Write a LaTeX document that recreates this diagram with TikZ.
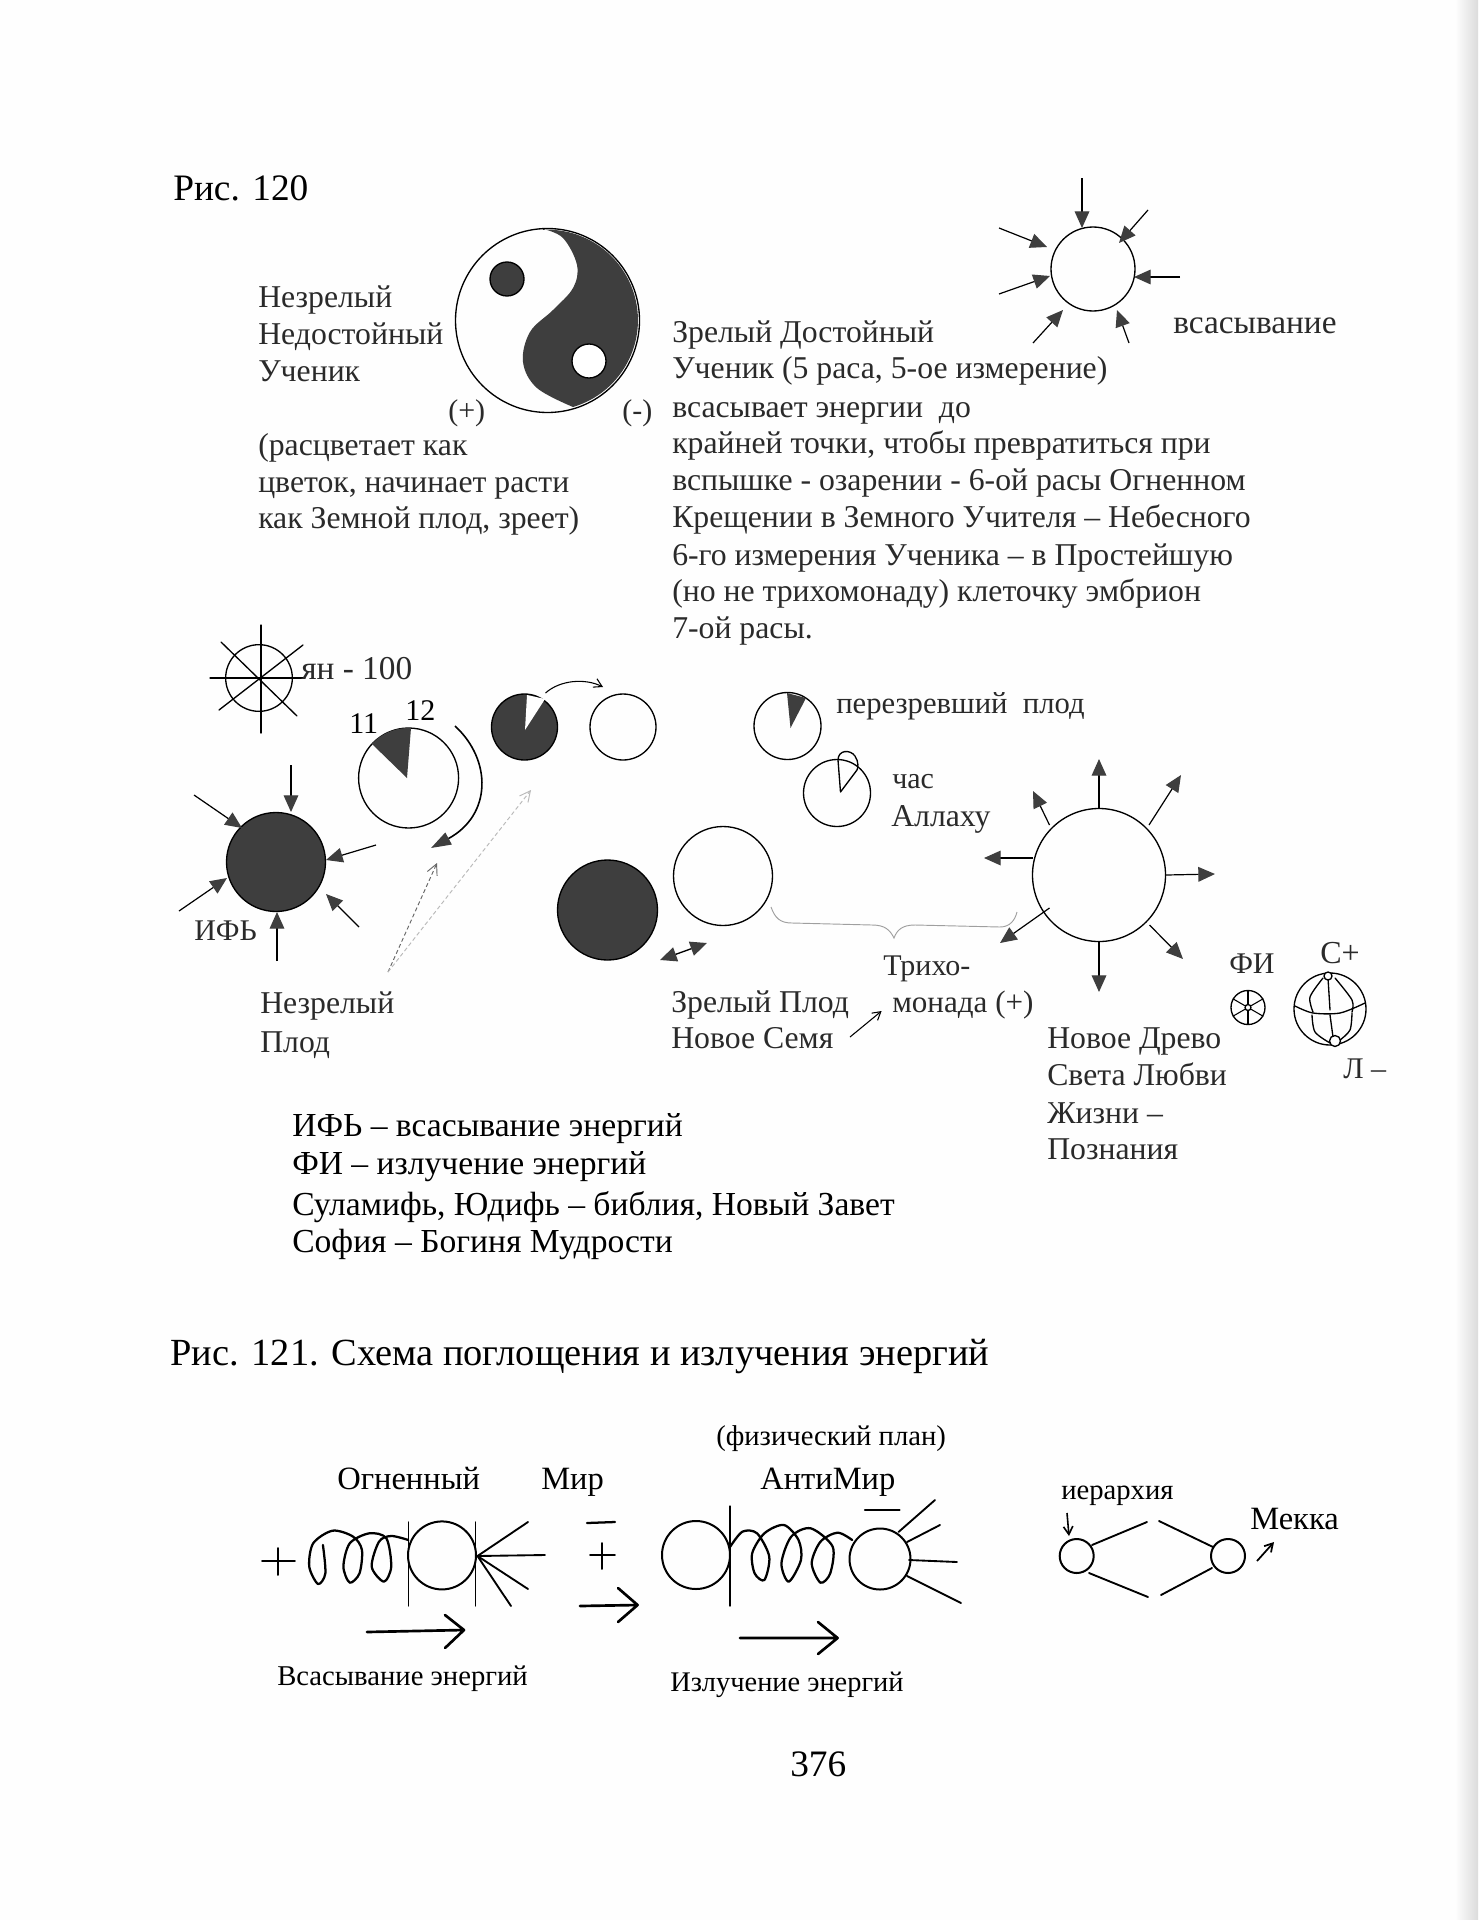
\documentclass[tikz,border=0pt]{standalone}
\usepackage{fontspec}
\usepackage{graphicx}
\setmainfont{Liberation Serif}
\usetikzlibrary{arrows.meta,shapes.geometric}
\definecolor{ink}{HTML}{3E3E3E}
\definecolor{txt}{HTML}{2A2A2A}
\definecolor{page}{HTML}{FEFEFE}
\tikzset{
  txtn/.style={anchor=base west,inner sep=0pt,text=txt},
  bodyf/.style={txtn,font=\fontsize{23.8}{26}\selectfont},
  shortf/.style={txtn,font=\fontsize{22.5}{26}\selectfont},
  headf/.style={txtn,text=black,font=\fontsize{28}{30}\selectfont},
  headg/.style={txtn,text=black,font=\fontsize{28.8}{30}\selectfont},
  legf/.style={txtn,text=black,font=\fontsize{25.2}{28}\selectfont},
  blackf/.style={txtn,text=black,font=\fontsize{24.4}{28}\selectfont},
  smallf/.style={txtn,text=black,font=\fontsize{21.5}{24}\selectfont},
  numf/.style={txtn,text=black,font=\fontsize{22.5}{24}\selectfont},
  ring/.style={circle,draw=black,line width=1pt,inner sep=0pt},
  ringb/.style={ring,line width=1.5pt},
  arr/.style={line width=.9pt,-{Triangle[length=12.5pt,width=11pt,color=ink]}},
  opn/.style={line width=.8pt,-{Straight Barb[length=6pt,width=7pt]}},
  faint/.style={line width=.7pt,draw=gray!70,densely dashed,-{Straight Barb[length=8pt,width=8pt]}},
  stroke/.style={line width=1pt,line cap=round},
  strokeb/.style={line width=1.4pt,line cap=round},
  thick2/.style={line width=2pt,line cap=round,line join=round},
  spring/.style={line width=1.7pt,line cap=round,line join=round}
}
\newcommand{\tx}[5][bodyf]{\node[#1] (#2) at (#3,#4) {#5};}
\newcommand{\rn}[5][none]{\node[ring,fill=#1,minimum size=#5*1.5pt] (#2) at (#3,#4) {};}
\newcommand{\rb}[4]{\node[ringb,minimum size=#4*1.5pt] (#1) at (#2,#3) {};}
\begin{document}
\begin{tikzpicture}[x=.75pt,y=-.75pt]
\useasboundingbox (0,0) rectangle (1478,1920);
\fill[page] (0,0) rectangle (1478,1920);
\shade[left color=page,right color=gray!28] (1455,0) rectangle (1478,1920);

% ---------- Fig 120 heading
\tx[headf]{h120}{173}{200}{Рис. 120}

% ---------- yin-yang
\fill[ink] plot[smooth,tension=.6] coordinates {(543,229)(563,238)(577,265)(573,288)(553,310)(530,332)(523,362)(537,388)(573,407)}
  arc[start angle=73.6,end angle=-92.8,radius=90.5] -- cycle;
\rn{yy}{547.5}{320.5}{92}
\rn[ink]{yydark}{507}{279}{17}
\rn[white]{yywhite}{589}{361}{17}
\tx{a1}{258}{307}{Незрелый}
\tx{a2}{258}{344}{Недостойный}
\tx{a3}{258}{381}{Ученик}
\tx[shortf]{plus}{448}{420}{(+)}
\tx[shortf]{minus}{622}{420}{(-)}
\tx{b1}{258}{455}{(расцветает как}
\tx{b2}{258}{492}{цветок, начинает расти}
\tx{b3}{258}{528}{как Земной плод, зреет)}
\tx{c1}{672}{342}{Зрелый Достойный}
\tx{c2}{672}{378}{Ученик (5 раса, 5-ое измерение)}
\tx{c3}{672}{417}{всасывает энергии\ \ до}
\tx{c4}{672}{453}{крайней точки, чтобы превратиться при}
\tx{c5}{672}{490}{вспышке - озарении - 6-ой расы Огненном}
\tx{c6}{672}{527}{Крещении в Земного Учителя – Небесного}
\tx{c7}{672}{565}{6-го измерения Ученика – в Простейшую}
\tx{c8}{672}{601}{(но не трихомонаду) клеточку эмбрион}
\tx{c9}{672}{638}{7-ой расы.}

% ---------- small sun, suction
\rn{sun}{1093}{269}{42}
\draw[arr] (1082,178) -- (1082,228);
\draw[arr] (1148,210) -- (1119,243);
\draw[arr] (1180,277) -- (1134,277);
\draw[arr] (1129,343) -- (1117,310);
\draw[arr] (1033,343) -- (1063,310);
\draw[arr] (999,294) -- (1050,276);
\draw[arr] (999,228) -- (1047,247);
\tx[txtn,font=\fontsize{25}{28}\selectfont]{suck}{1173}{333}{всасывание}

% ---------- wheel yan
\node[ring,minimum size=50pt] (wheel) at (259,678) {};
\draw[stroke] (210,678) -- (305,678);
\draw[stroke] (261,625) -- (261,733);
\draw[stroke] (221,642) -- (297,716);
\draw[stroke] (303,645) -- (219,710);
\tx[txtn,font=\fontsize{25}{28}\selectfont]{yan}{301}{679}{ян - 100}

% ---------- dark sun (ИФЬ)
\rn[ink]{ifb}{276}{862}{49.5}
\draw[arr] (291,765) -- (291,812);
\draw[arr] (194,795) -- (242,828);
\draw[arr] (376,845) -- (326,860);
\draw[arr] (359,927) -- (326,894);
\draw[arr] (277,961) -- (277,912);
\draw[arr] (179,911) -- (227,878);
\tx[shortf]{ifbt}{194}{940}{ИФЬ}
\tx{nz1}{260}{1013}{Незрелый}
\tx{nz2}{260}{1052}{Плод}

% ---------- clock 11-12
\rn{clock}{408.6}{778}{50}
\fill[ink] (407,778) -- (411,728) arc[start angle=-87,end angle=-137,radius=50] -- cycle;
\tx[numf]{n11}{349}{733}{11}
\tx[numf]{n12}{405}{720}{12}
\draw[line width=1.2pt,-{Triangle[length=15pt,width=10pt,color=ink]}] (455,726) .. controls (492,760) and (492,815) .. (431,848);
\coordinate (src) at (388,972);
\draw[faint,draw=gray!80!black] (src) -- (437,863);
\draw[faint,draw=gray!55] (src) -- (531,790);

% ---------- dark + white pair
\rn[ink]{dk}{524.5}{727}{33}
\fill[white] (525,730) -- (527,695) -- (545,699) -- cycle;
\rn{wh}{623}{727}{33}
\draw[opn] (545.5,693) .. controls (560,680) and (585,678) .. (603,687);

% ---------- overripe fruit
\rn{over}{787.5}{726}{33.5}
\fill[ink] (790.5,728) -- (787,693) -- (806,698) -- cycle;
\tx[txtn,font=\fontsize{23}{26}\selectfont]{ov}{836}{713}{перезревший\ \ плод}
\rn{hour}{837}{793}{33.5}
\draw[stroke] (840.5,792) -- (838,760) .. controls (838,750) and (850,749) .. (855,756)
  .. controls (859,762) and (858,768) .. (857,770) -- (840.5,792);
\tx[shortf]{ch1}{892}{788}{час}
\tx{ch2}{891}{826}{Аллаху}

% ---------- mature fruit
\rn[ink]{dk2}{607.5}{910}{50}
\rn{wh2}{723}{876}{49.5}
\draw[line width=1pt,{Triangle[length=12.5pt,width=11pt,color=ink]}-{Triangle[length=12.5pt,width=11pt,color=ink]}] (660,960) -- (707,943);
\draw[line width=.7pt,draw=gray!75] (771,907) .. controls (775,918) and (780,923) .. (792,923)
  -- (872,925) .. controls (885,925) and (890,930) .. (894,938)
  .. controls (897,930) and (902,925) .. (915,925) -- (1000,927)
  .. controls (1010,927) and (1015,920) .. (1017,912);

% ---------- big sun
\rn{big}{1099}{875}{66.5}
\draw[arr] (big.north) -- (1099,759);
\draw[arr] (1149,825) -- (1181,775);
\draw[arr] (big.east) -- (1215,874);
\draw[arr] (1149.5,925) -- (1183,959);
\draw[arr] (big.south) -- (1099,992);
\draw[arr] (1049.5,908) -- (1000,943);
\draw[arr] (1033,858) -- (984,858);
\draw[arr] (1049.5,825) -- (1033,791);
\tx[shortf]{tr1}{883}{975}{Трихо-}
\tx[txtn,font=\fontsize{23.3}{26}\selectfont]{tr2}{892}{1012}{монада (+)}
\draw[opn] (850,1037) -- (881.6,1011);
\tx{zp1}{671}{1012}{Зрелый Плод}
\tx{zp2}{671}{1048}{Новое Семя}
\tx{nd1}{1047}{1048}{Новое Древо}
\tx{nd2}{1047}{1085}{Света Любви}
\tx{nd3}{1047}{1123}{Жизни –}
\tx{nd4}{1047}{1159}{Познания}
\tx[shortf]{fi}{1229}{973}{ФИ}
\tx[txtn,font=\fontsize{24}{26}\selectfont]{cp}{1320}{963}{С+}
\tx[shortf]{lm}{1343}{1078}{Л –}

% ---------- small wheel
\node[ring,minimum size=25.5pt] (fw) at (1248,1007.5) {};
\node[ring,minimum size=4.5pt] (fwc) at (1248,1007.5) {};
\foreach \a in {-90,-30,30,90,150,210}{
  \draw[line width=.8pt] (fwc.\a) -- (fw.\a);
}

% ---------- globe
\rn{globe}{1330}{1009}{36}
\draw[stroke] plot[smooth] coordinates {(1295,1006)(1313,1013)(1340,1013)(1365,1003)};
\draw[stroke] (1328,978) -- (1330,1010);
\draw[stroke] (1330,1015) -- (1333,1037);
\draw[stroke] plot[smooth] coordinates {(1323,978)(1310,997)(1313,1012)};
\draw[stroke] plot[smooth] coordinates {(1335,978)(1352,1000)(1352,1012)};
\draw[stroke] plot[smooth] coordinates {(1312,1015)(1315,1032)(1330,1043)};
\draw[stroke] plot[smooth] coordinates {(1352,1013)(1350,1030)(1340,1040)};
\rn[white]{gt}{1328}{976}{4}
\rn[white]{gb}{1335}{1041}{5.5}

% ---------- legend
\tx[legf]{l1}{292}{1136}{ИФЬ – всасывание энергий}
\tx[legf]{l2}{292}{1174}{ФИ – излучение энергий}
\tx[legf]{l3}{292}{1215}{Суламифь, Юдифь – библия, Новый Завет}
\tx[legf]{l4}{292}{1252}{София – Богиня Мудрости}

% ---------- Fig 121
\tx[headg]{h121}{170}{1365}{Рис. 121. Схема поглощения и излучения энергий}
\tx[smallf]{fp}{716}{1445}{(физический план)}
\tx[blackf]{og}{337}{1489}{Огненный}
\tx[blackf]{mir}{541}{1489}{Мир}
\tx[blackf]{am}{760}{1489}{АнтиМир}
\draw[strokeb] (262,1561) -- (295,1561) (278,1548) -- (278,1575);

\begin{scope}[shift={(240,1400)},xscale=.4878,yscale=.3333]
\draw[spring] plot[smooth] coordinates {(170,435)(175,520)(160,552)(142,500)(150,430)(190,392)(232,410)(250,450)(245,520)(225,548)(212,500)(225,430)(265,400)(300,415)(310,500)(295,545)(270,500)(285,425)(310,408)(345,420)};
\draw[spring] plot[smooth] coordinates {(1005,440)(1030,395)(1060,400)(1085,470)(1075,540)(1055,520)(1050,460)(1075,400)(1115,375)(1145,420)(1150,480)(1125,545)(1110,490)(1130,410)(1170,385)(1215,440)(1210,520)(1190,548)(1172,490)(1190,425)(1225,398)(1255,420)};
\end{scope}

\rb{lc}{442}{1555.4}{34}
\draw[stroke] (408.3,1522) -- (408.3,1606);
\draw[stroke] (475.6,1522) -- (475.6,1606);
\coordinate (rayo) at (477.5,1556);
\draw[strokeb] (rayo) -- (528,1522);
\draw[strokeb] (rayo) -- (545,1555);
\draw[strokeb] (rayo) -- (528,1589);
\draw[strokeb] (rayo) -- (511,1606);
\draw[strokeb,line width=1.7pt] (587,1523) -- (615,1522);
\draw[strokeb] (590,1555) -- (615,1555) (602,1543) -- (602,1569);
\draw[thick2] (580,1606) -- (637.6,1605) (618,1588) -- (637.6,1605) -- (618,1622);
\draw[thick2] (367,1632) -- (464,1630) (445,1615) -- (464,1630) -- (445,1648);
\draw[thick2] (740,1638) -- (837.6,1638) (818,1622) -- (837.6,1638) -- (818,1654);
\tx[smallf]{ve}{277}{1685}{Всасывание энергий}
\tx[txtn,text=black,font=\fontsize{21.3}{24}\selectfont]{ie}{670}{1691}{Излучение энергий}

\rb{rc1}{696}{1555}{34}
\draw[stroke] (730,1506) -- (730,1606);
\rb{rc2}{880}{1559}{30.5}
\draw[strokeb] (898.5,1532) -- (935,1500);
\draw[strokeb] (907,1542) -- (940,1525);
\draw[strokeb] (909,1560) -- (957,1562);
\draw[strokeb] (907,1576) -- (961,1603);
\draw[strokeb,line width=1.7pt] (865,1510) -- (899.5,1510);

% ---------- hierarchy
\tx[txtn,text=black,font=\fontsize{21.5}{24}\selectfont]{ier}{1061}{1499}{иерархия}
\tx[txtn,text=black,font=\fontsize{24.4}{26}\selectfont]{mek}{1250}{1529}{Мекка}
\rb{hl}{1076.7}{1556}{17}
\rb{hr}{1228}{1556}{17}
\draw[strokeb] (1092,1545) -- (1147,1522);
\draw[strokeb] (1159,1521) -- (1213,1547);
\draw[strokeb] (1089,1573) -- (1148,1597);
\draw[strokeb] (1161,1595) -- (1212,1568);
\draw[opn,line width=1.2pt] (1067,1513) -- (1069,1536);
\draw[opn,line width=1.3pt] (1257,1561) -- (1274,1542);

% ---------- page number
\tx[headf]{pg}{790}{1776}{376}
\end{tikzpicture}
\end{document}
